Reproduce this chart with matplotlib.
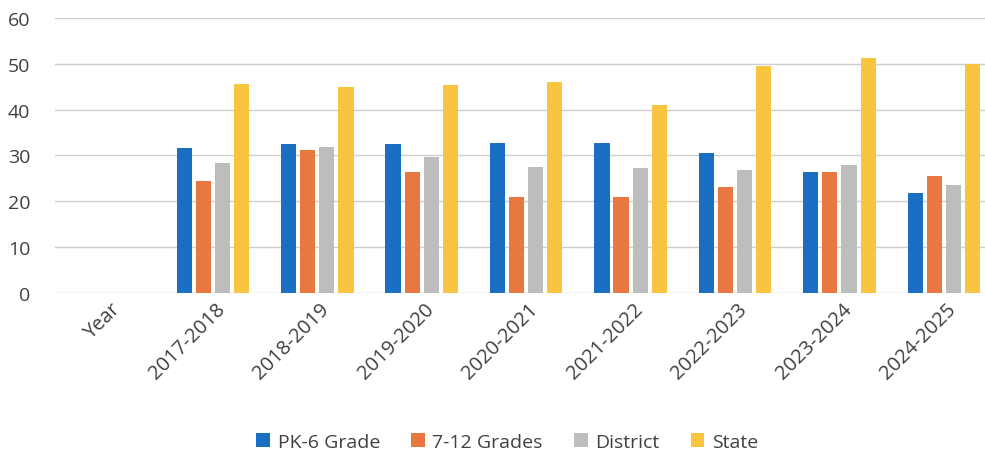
import matplotlib.pyplot as plt
import numpy as np

# Data
categories = ['Year', '2017-2018', '2018-2019', '2019-2020', '2020-2021',
              '2021-2022', '2022-2023', '2023-2024', '2024-2025']
pk6_grade = [np.nan, 31.6, 32.5, 32.5, 32.7, 32.7, 30.5, 26.3, 21.9]
grades_7_12 = [np.nan, 24.4, 31.2, 26.3, 21.0, 21.0, 23.1, 26.3, 25.4]
district = [np.nan, 28.4, 31.9, 29.7, 27.5, 27.2, 26.8, 27.8, 23.6]
state = [np.nan, 45.6, 45.0, 45.4, 46.0, 41.1, 49.4, 51.2, 50.0]

series = [
    ('PK-6 Grade', pk6_grade, '#1b6fc2'),
    ('7-12 Grades', grades_7_12, '#e8783f'),
    ('District', district, '#bdbdbd'),
    ('State', state, '#f9c440'),
]

plt.rcParams['font.family'] = ['Open Sans', 'DejaVu Sans']

fig = plt.figure(figsize=(9.85, 4.6), dpi=100)
ax = fig.add_axes([0.056, 0.361, 0.95, 0.598])

x = np.arange(len(categories))
width = 0.145
step = 0.183
for i, (label, values, color) in enumerate(series):
    offset = (i - 1.5) * step
    ax.bar(x + offset, values, width, label=label, color=color, zorder=3)

ax.set_ylim(0, 60)
ax.set_yticks(range(0, 61, 10))
ax.set_xlim(-0.51, 8.45)
ax.set_xticks(x + 0.02)
ax.set_xticklabels(categories, rotation=45, ha='right', rotation_mode='anchor',
                   fontsize=14.5, color='#404040')
ax.tick_params(axis='y', labelsize=14, labelcolor='#404040', length=0, pad=18)
ax.tick_params(axis='x', length=0, pad=4)

ax.grid(axis='y', color='#cfcfcf', linewidth=1, zorder=0)
for spine in ax.spines.values():
    spine.set_visible(False)

fig.legend(*ax.get_legend_handles_labels(), loc='center',
           bbox_to_anchor=(0.515, 0.037), ncol=4, frameon=False,
           fontsize=14, handlelength=0.7, handleheight=0.7, handletextpad=0.4,
           columnspacing=1.6, labelcolor='#404040')

fig.savefig('out.png', dpi=100)
